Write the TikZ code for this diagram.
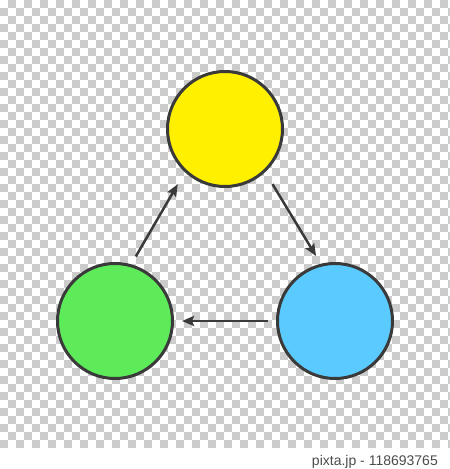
\documentclass[tikz,border=0pt]{standalone}
\usepackage{fontspec}
\setsansfont{Liberation Sans}
\usetikzlibrary{arrows.meta}
\definecolor{myyellow}{HTML}{FFF000}
\definecolor{mygreen}{HTML}{5DEB5A}
\definecolor{myblue}{HTML}{5BCBFF}
\definecolor{myedge}{HTML}{3A3A3A}
\definecolor{mycheck}{HTML}{CCCCCC}
\newcommand{\checkboard}
{   \fill[white] (0,0) rectangle (450,450);
    \foreach \i in {0,...,56}
      \foreach \j in {0,...,55}
      { \pgfmathparse{int(mod(\i+\j,2))}
        \ifnum\pgfmathresult=1 \fill[mycheck] (8*\i,8*\j) rectangle ++(8,8); \fi
      }
    \fill[white] (0,450) rectangle (450,469);
}
\tikzset{
  ball/.style={circle,draw=myedge,line width=3pt,minimum size=115pt,inner sep=0pt},
  arr/.style={draw=myedge,line width=2.5pt,-{Stealth[length=12pt,width=10pt,inset=2pt]}}
}

\begin{document}
\begin{tikzpicture}[x=1pt,y=-1pt]
 \useasboundingbox (0,0) rectangle (450,469);
 \begin{scope}
   \clip (0,0) rectangle (450,469);
   \checkboard
 \end{scope}

   \node[ball,fill=myyellow] (yellow) at (225,129) {};
   \node[ball,fill=mygreen]  (green)  at (115,321) {};
   \node[ball,fill=myblue]   (blue)   at (335,321) {};

   \draw[arr,shorten <=14pt,shorten >=9pt] (yellow.-47) -- (blue.104);
   \draw[arr,shorten <=8pt,shorten >=8pt] (blue.west) -- (green.east);
   \draw[arr,shorten <=9pt,shorten >=14pt] (green.74) -- (yellow.227);

   \node[anchor=base east,inner sep=0pt,text=black!70,font=\sffamily\fontsize{14}{16}\selectfont] (mark) at (438,465) {pixta.jp - 118693765};

 \end{tikzpicture}
\end{document}
